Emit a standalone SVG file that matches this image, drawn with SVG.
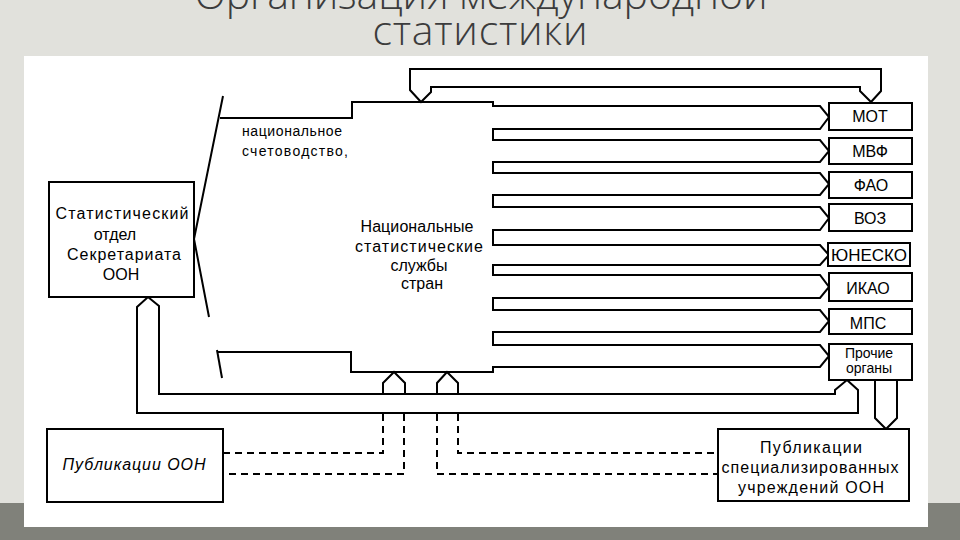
<svg xmlns="http://www.w3.org/2000/svg" width="960" height="540" viewBox="0 0 960 540">
<defs>
<style>
.ln{fill:none;stroke:#000;stroke-width:2;stroke-linejoin:miter}
.dash{fill:none;stroke:#000;stroke-width:2;stroke-dasharray:7 5}
.box{fill:#fff;stroke:#000;stroke-width:2}
.t{font-family:"Liberation Sans",Arial,sans-serif;font-size:16px;fill:#000}
.c{text-anchor:middle}
.title{font-family:"Open Sans","Liberation Sans",sans-serif;font-size:41px;font-weight:300;fill:#3c3c3c;text-anchor:middle}
</style>
</defs>
<rect x="0" y="0" width="960" height="540" fill="#e1e1dc"/>
<rect x="0" y="503" width="960" height="37" fill="#80817a"/>
<rect x="24" y="56" width="904" height="471" fill="#fff"/>
<text class="title" x="481" y="9" textLength="573">Организация международной</text>
<text class="title" x="480" y="45" textLength="215">статистики</text>

<g id="connectors">
<!-- national services box outline with comb of arrows -->
<path class="ln" d="M220,118 H352 V102 H493 V106 H820 L829,117 L820,129 H493 V140 H820 L829,151 L820,162 H493 V173 H820 L829,184 L820,195 H493 V207 H820 L829,218 L820,230 H493 V245 H820 L829,255 L820,265 H493 V275 H820 L829,287 L820,298 H493 V310 H820 L829,321 L820,332 H493 V345 H820 L829,356 L820,367 H493 V372 H351 V352 H217"/>
<path class="ln" d="M223,96 L194,239 L209,317"/>
<path class="ln" d="M217,350 L222,378"/>
<!-- top loop MOT -> national services -->
<path class="ln" d="M871,102 L881,91 V69 H410 V90 L421,102 L431,92 V87 H860 V91 Z"/>
<!-- bottom loop Прочие органы -> statistical division -->
<path class="ln" d="M847,380 L858,390 V413 H137 V307 L148,297 L159,306 V394 H835 V390 Z"/>
<!-- small arrows into national services -->
<path class="ln" d="M383,395 V383 L394,372 L405,383 V395"/>
<path class="ln" d="M437,395 V383 L447,372 L458,383 V395"/>
<!-- Прочие органы -> specialised publications -->
<path class="ln" d="M875,380 V418 L886,429 L897,418 V380"/>
<!-- dashed links -->
<path class="dash" d="M383,414 V453 H224"/>
<path class="dash" d="M404,414 V474 H224"/>
<path class="dash" d="M437,414 V474 H717"/>
<path class="dash" d="M458,414 V453 H717"/>
</g>

<g id="stat-division">
<rect class="box" x="49" y="182" width="145" height="115"/>
<text class="t c" x="122" y="219" textLength="133">Статистический</text>
<text class="t c" x="115" y="240">отдел</text>
<text class="t c" x="124" y="260" textLength="114">Секретариата</text>
<text class="t c" x="121" y="280">ООН</text>
</g>

<g id="national-services">
<text class="t" x="242" y="136" style="font-size:14px" textLength="100">национальное</text>
<text class="t" x="242" y="156" style="font-size:14px" textLength="106">счетоводство,</text>
<text class="t c" x="417" y="232" textLength="113">Национальные</text>
<text class="t c" x="419" y="252" textLength="128">статистические</text>
<text class="t c" x="419" y="271">службы</text>
<text class="t c" x="422" y="289">стран</text>
</g>

<g id="mot"><rect class="box" x="829" y="103" width="83" height="27"/><text class="t c" x="870" y="122">МОТ</text></g>
<g id="mvf"><rect class="box" x="829" y="138" width="83" height="26"/><text class="t c" x="870" y="157">МВФ</text></g>
<g id="fao"><rect class="box" x="829" y="172" width="83" height="26"/><text class="t c" x="871" y="191">ФАО</text></g>
<g id="voz"><rect class="box" x="829" y="204" width="83" height="27"/><text class="t c" x="870" y="224">ВОЗ</text></g>
<g id="unesco"><rect class="box" x="828" y="243" width="82" height="23"/><text class="t c" x="869" y="261" style="font-size:17px">ЮНЕСКО</text></g>
<g id="ikao"><rect class="box" x="829" y="273" width="83" height="28"/><text class="t c" x="868" y="294">ИКАО</text></g>
<g id="mps"><rect class="box" x="829" y="309" width="83" height="25"/><text class="t c" x="868" y="329">МПС</text></g>
<g id="other"><rect class="box" x="829" y="344" width="83" height="36"/><text class="t c" x="869" y="358" style="font-size:14px">Прочие</text><text class="t c" x="869" y="373" style="font-size:14px">органы</text></g>

<g id="un-publications">
<rect class="box" x="47" y="429" width="176" height="73"/>
<text class="t c" x="134" y="470" font-style="italic" textLength="143">Публикации ООН</text>
</g>

<g id="agency-publications">
<rect class="box" x="718" y="429" width="191" height="72"/>
<text class="t c" x="811" y="453" textLength="102">Публикации</text>
<text class="t c" x="810" y="473" textLength="177">специализированных</text>
<text class="t c" x="811" y="493" textLength="146">учреждений ООН</text>
</g>
</svg>
